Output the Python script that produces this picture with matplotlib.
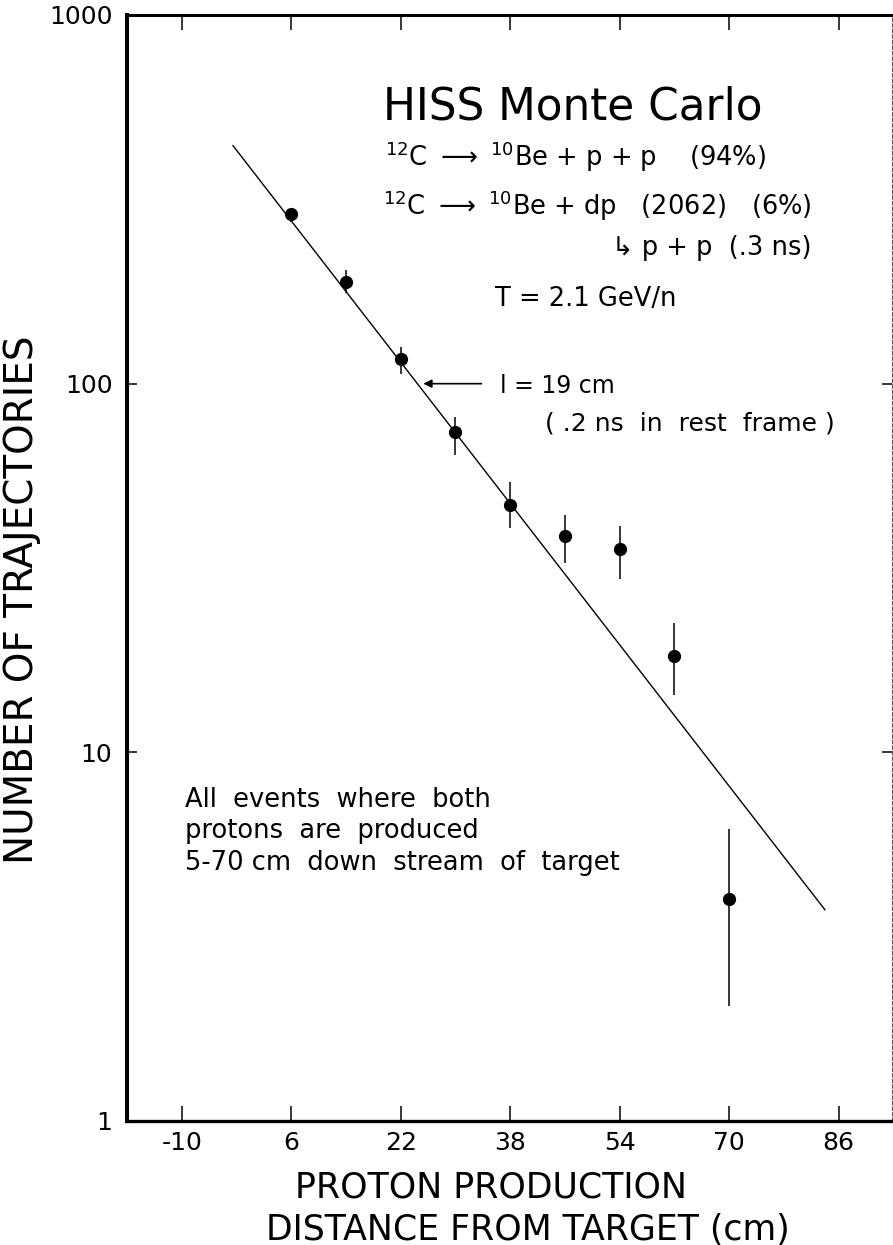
import matplotlib
matplotlib.use("Agg")
import matplotlib.pyplot as plt
from matplotlib.ticker import FixedLocator, NullLocator, FixedFormatter

plt.rcParams['font.family'] = ['DejaVu Sans']
plt.rcParams['mathtext.fontset'] = 'dejavusans'

# ---- data ----
x_cm = [6, 14, 22, 30, 38, 46, 54, 62, 70]
counts = [288, 189, 117, 74, 47, 38.5, 35.5, 18.2, 4.0]
err_low = [274, 176, 106, 64, 40.5, 32.6, 29.5, 14.3, 2.05]
err_high = [300, 203, 126, 81, 54, 44, 41, 22.4, 6.2]

fit_x = [-2.5, 84.0]
fit_y = [442, 3.74]

x_ticks = [-10, 6, 22, 38, 54, 70, 86]
x_ticklabels = ["-10", "6", "22", "38", "54", "70", "86"]
y_ticks = [1, 10, 100, 1000]
y_ticklabels = ["1", "10", "100", "1000"]

arrow_y = 100
arrow_from_x = 33.8
arrow_to_x = 25.3

W, H = 893, 1245
fig = plt.figure(figsize=(W / 100, H / 100), dpi=100)
ax = fig.add_axes([127 / W, 1 - 1121 / H, 765 / W, 1106 / H])
ax.set_yscale('log')
ax.set_xlim(-18.0, 93.8)
ax.set_ylim(1, 1000)


def fx(px):
    return px / W


def fy(py):
    return 1 - py / H


# fit line
ax.plot(fit_x, fit_y, color='k', lw=1.0)
# error bars and points
ax.vlines(x_cm, err_low, err_high, color='k', lw=1.1)
ax.plot(x_cm, counts, 'o', color='k', ms=8.5)

# arrow for decay length
ax.annotate('', xy=(arrow_to_x, arrow_y), xytext=(arrow_from_x, arrow_y),
            arrowprops=dict(arrowstyle='-|>', lw=1.2, color='k', mutation_scale=12,
                            shrinkA=0, shrinkB=0))

# spines
for side, lw in [('left', 2.9), ('bottom', 2.4), ('top', 2.2)]:
    ax.spines[side].set_linewidth(lw)
ax.spines['right'].set_linewidth(0.8)
ax.spines['right'].set_linestyle((0, (3, 2)))
ax.spines['right'].set_color('#555555')

ax.xaxis.set_major_locator(FixedLocator(x_ticks))
ax.xaxis.set_major_formatter(FixedFormatter(x_ticklabels))
ax.yaxis.set_major_locator(FixedLocator(y_ticks))
ax.yaxis.set_major_formatter(FixedFormatter(y_ticklabels))
ax.xaxis.set_minor_locator(NullLocator())
ax.yaxis.set_minor_locator(NullLocator())
ax.tick_params(axis='x', which='major', direction='in', length=11, width=1.1,
               top=True, bottom=True, labelsize=18, pad=7.5)
ax.tick_params(axis='y', which='major', direction='in', length=7, width=1.1,
               left=True, right=True, labelsize=18, pad=10.5)

# annotations
fig.text(fx(383), fy(120), "HISS Monte Carlo", fontsize=31.5, va='baseline', ha='left')
fig.text(fx(385), fy(165.7), r"$^{12}$C $\longrightarrow$ $^{10}$Be + p + p    (94%)",
         fontsize=18.5, va='baseline', ha='left')
fig.text(fx(383), fy(215), r"$^{12}$C $\longrightarrow$ $^{10}$Be + dp   (2062)   (6%)",
         fontsize=18.5, va='baseline', ha='left')
fig.text(fx(611.7), fy(255), "\u21b3 p + p  (.3 ns)", fontsize=18.5, va='baseline', ha='left')
fig.text(fx(495), fy(306), "T = 2.1 GeV/n", fontsize=18.5, va='baseline', ha='left')
fig.text(fx(500), fy(393.3), "l = 19 cm", fontsize=17, va='baseline', ha='left')
fig.text(fx(545), fy(430), "( .2 ns  in  rest  frame )", fontsize=18, va='baseline', ha='left')

fig.text(fx(185), fy(806.7), "All  events  where  both", fontsize=18.5, va='baseline', ha='left')
fig.text(fx(185), fy(838.3), "protons  are  produced", fontsize=18.5, va='baseline', ha='left')
fig.text(fx(185), fy(870), "5-70 cm  down  stream  of  target", fontsize=18.5,
         va='baseline', ha='left')

# axis labels
fig.text(fx(22.5), fy(600), "NUMBER OF TRAJECTORIES", fontsize=28, rotation=90,
         ha='center', va='center')
fig.text(fx(491), fy(1188), "PROTON PRODUCTION", fontsize=25, ha='center', va='center')
fig.text(fx(528), fy(1230), "DISTANCE FROM TARGET (cm)", fontsize=25, ha='center', va='center')

fig.savefig("out.png", dpi=100, facecolor='white')
